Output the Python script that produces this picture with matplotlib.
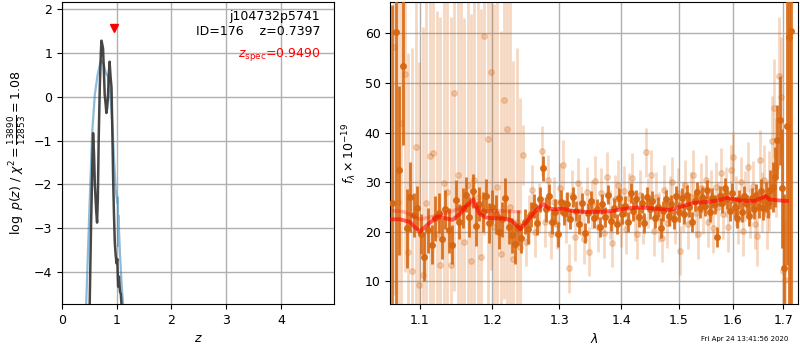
import numpy as np
import matplotlib
matplotlib.use('Agg')
import matplotlib.pyplot as plt
from matplotlib.ticker import NullLocator, FixedLocator, FixedFormatter

plt.rcParams['font.size'] = 9

# left panel: p(z) curves
z_smooth = [0.44, 0.50, 0.55, 0.60, 0.65, 0.70, 0.72, 0.76, 0.80, 0.84, 0.88, 0.92,
            0.95, 0.98, 1.01, 1.02, 1.025, 1.03, 1.06, 1.09, 1.12]
logp_smooth = [-4.8, -2.6, -0.85, 0.05, 0.5, 0.78, 0.82, 0.75, 0.55, 0.46, 0.1, -0.6,
               -1.4, -2.1, -2.42, -2.3, -3.4, -2.7, -3.6, -4.3, -4.8]

z_fit = [0.505, 0.53, 0.555, 0.568, 0.585, 0.60, 0.625, 0.641, 0.655, 0.67, 0.69, 0.71,
         0.72, 0.735, 0.75, 0.765, 0.78, 0.80, 0.81, 0.825, 0.84, 0.855, 0.87, 0.885,
         0.905, 0.92, 0.935, 0.95, 0.965, 0.98, 0.996, 1.01, 1.026, 1.04, 1.06, 1.075, 1.09]
logp_fit = [-4.8, -3.0, -1.5, -0.83, -1.3, -2.0, -2.6, -2.87, -2.3, -1.0, 0.2, 1.0,
            1.28, 1.2, 1.1, 0.6, 0.05, -0.2, -0.37, -0.25, 0.0, 0.5, 0.8, 0.5,
            0.2, -0.8, -1.9, -2.7, -3.33, -3.6, -3.8, -3.7, -4.33, -4.1, -4.45, -4.5, -4.8]

z_spec = 0.9490
z_best = 0.7397
chi2_num = 13890
chi2_den = 12853

# right panel: spectrum
dark_wave = np.linspace(1.064, 1.716, 140)
dark_flux = [25.8, 60.2, 32.4, 53.4, 20.7, 27.0, 23.4, 24.8, 19.6, 15.0,
             20.3, 17.4, 22.7, 23.8, 18.5, 24.5, 20.3, 17.4, 26.4, 22.0,
             24.8, 27.5, 23.0, 28.2, 21.2, 25.6, 24.0, 27.2, 21.8, 25.0,
             23.5, 20.0, 22.5, 26.8, 21.0, 19.3, 17.5, 20.8, 18.8, 22.0,
             20.5, 23.5, 25.2, 21.8, 26.5, 32.8, 24.5, 27.2, 22.0, 24.0,
             19.5, 26.0, 23.8, 25.5, 22.5, 27.0, 24.2, 21.5, 25.8, 19.8,
             23.8, 26.2, 22.8, 24.5, 21.0, 25.6, 23.0, 27.5, 22.2, 24.8,
             21.5, 26.8, 23.5, 25.2, 22.0, 27.8, 24.2, 26.5, 23.0, 25.8,
             21.8, 27.0, 24.5, 26.2, 22.8, 25.0, 20.8, 24.2, 26.5, 23.2,
             25.5, 22.5, 27.2, 24.0, 26.8, 23.5, 27.5, 25.0, 22.0, 26.2,
             28.0, 24.8, 27.0, 25.2, 28.5, 24.0, 26.8, 25.5, 19.0, 27.2,
             25.8, 28.8, 26.5, 24.2, 27.8, 25.0, 22.8, 26.5, 24.0, 27.2,
             25.5, 23.2, 26.8, 24.5, 27.5, 25.0, 28.2, 24.8, 27.0, 25.8,
             28.5, 29.0, 31.0, 38.5, 42.5, 28.8, 12.6, 41.3, 59.2, 60.5]
dark_err = [40, 60, 17, 16, 8, 7, 4.5, 4.5, 4, 5,
            4.5, 4, 4.5, 4, 4, 4, 4.5, 4, 4, 3.5,
            4, 3.5, 4, 3.5, 4, 3.5, 4, 3.5, 4, 3.5,
            4, 3.5, 3.5, 4, 3.5, 3.5, 4, 3.5, 3, 2.5,
            3, 2.5, 2.5, 2.5, 2.5, 2.5, 2.5, 2.5, 2.5, 2.5,
            2.5, 2.5, 2.5, 2.5, 2, 2, 2, 2, 2, 2,
            2, 2, 2, 2, 2, 2, 2, 2, 2, 2,
            2, 2, 2, 2, 2, 2, 2, 2, 2, 2,
            2, 2, 2, 2, 2, 2, 2, 2, 2, 2,
            2, 2, 2, 2, 2, 2, 2, 2, 2, 2,
            2, 2, 2, 2, 2, 2, 2, 2, 2, 2,
            2, 2, 2, 2, 2, 2, 2, 2, 2, 2,
            2, 2, 2, 2, 2.2, 2.2, 2.5, 2.5, 3, 3,
            4, 5, 6, 7, 9, 12, 15, 28, 55, 55]

light_wave = np.linspace(1.0665, 1.704, 137)
light_flux = [57.3, 26.0, 42.0, 51.8, 16.0, 12.0, 37.1, 9.3, 11.3, 25.8,
              35.3, 35.8, 19.5, 13.3, 29.9, 28.0, 13.3, 48.0, 31.4, 24.5,
              18.0, 29.5, 14.0, 30.5, 27.0, 14.9, 59.4, 38.7, 52.2, 21.0,
              29.0, 15.5, 46.5, 40.7, 25.0, 14.5, 22.0, 17.0, 35.5, 18.0,
              22.5, 28.5, 20.0, 24.8, 36.3, 22.0, 30.5, 19.5, 26.0, 21.5,
              28.8, 33.5, 22.8, 12.6, 27.5, 19.0, 29.8, 24.2, 18.5, 28.0,
              16.0, 25.5, 30.2, 21.0, 27.8, 19.8, 31.0, 23.5, 17.8, 26.5,
              29.5, 22.0, 28.2, 20.5, 26.8, 30.8, 23.2, 19.5, 27.5, 22.5,
              36.0, 25.8, 31.5, 20.2, 27.0, 23.0, 18.8, 28.5, 21.8, 26.2,
              30.0, 22.5, 27.8, 16.2, 25.0, 29.5, 21.5, 27.0, 31.5, 23.8,
              19.5, 28.8, 24.5, 30.5, 22.0, 27.5, 20.8, 29.0, 25.0, 31.8,
              23.5, 28.0, 21.0, 32.5, 35.1, 26.2, 22.5, 30.0, 20.2, 27.2,
              33.0, 23.8, 29.2, 21.5, 19.1, 34.5, 26.0, 30.5, 23.5, 28.2,
              38.3, 44.9, 33.0, 51.3, 47.2, 12.0, 10.3]
light_err = [50, 45, 40, 40, 40, 45, 40, 45, 50, 45,
             45, 40, 45, 50, 40, 45, 50, 40, 45, 45,
             45, 40, 50, 40, 45, 50, 40, 40, 40, 45,
             45, 45, 40, 40, 45, 40, 35, 30, 6, 5,
             5, 5, 5, 5, 5, 5, 5, 5, 5, 5,
             5, 5, 5, 5, 5, 5, 5, 5, 5, 5,
             5, 5, 5, 5, 5, 5, 5, 5, 5, 5,
             5, 5, 5, 5, 5, 5, 5, 5, 5, 5,
             5, 5, 5, 5, 5, 5, 5, 5, 5, 5,
             5, 5, 5, 5, 5, 5, 5, 5, 5, 5,
             5, 5, 5, 5, 5, 5, 5, 5, 5, 5,
             5, 5, 5, 5, 5, 5, 5, 5, 5, 5,
             5, 5, 5, 5, 6, 6, 6, 7, 7, 8,
             9, 10, 10, 12, 12, 15, 12]

model_wave = [1.062, 1.074, 1.0865, 1.100, 1.113, 1.124, 1.135, 1.144, 1.155, 1.164,
              1.173, 1.181, 1.190, 1.201, 1.214, 1.226, 1.233, 1.241, 1.250, 1.262,
              1.275, 1.284, 1.294, 1.305, 1.320, 1.341, 1.364, 1.386, 1.409, 1.431,
              1.454, 1.484, 1.502, 1.526, 1.550, 1.575, 1.588, 1.601, 1.614, 1.641,
              1.654, 1.664, 1.672, 1.692, 1.707]
model_flux = [22.5, 22.5, 22.0, 20.0, 21.8, 23.0, 22.7, 22.4, 23.7, 25.4,
              26.5, 23.7, 22.9, 22.7, 22.7, 22.4, 21.6, 20.5, 22.0, 24.0,
              25.6, 24.7, 24.5, 24.7, 24.2, 24.0, 24.0, 24.2, 24.7, 24.9,
              24.7, 24.4, 25.0, 25.8, 26.0, 26.4, 26.8, 26.6, 26.3, 26.2,
              26.7, 27.2, 26.5, 26.3, 26.2]

model2_wave = [1.062, 1.08, 1.10, 1.13, 1.17, 1.19, 1.21, 1.24]
model2_flux = [24.3, 24.0, 22.5, 23.5, 25.5, 24.2, 24.2, 24.0]

orange = '#d7660f'

fig = plt.figure(figsize=(8, 3.5), dpi=100)

# ---- p(z) panel
ax = fig.add_axes([0.0775, 0.131, 0.34, 0.863])
ax.plot(z_smooth, logp_smooth, color='tab:blue', alpha=0.5, lw=1.6)
ax.plot(z_fit, logp_fit, color='#333333', lw=1.8, alpha=0.9)
ax.plot([z_spec], [1.56], marker='v', color='red', ms=6, linestyle='none')
ax.set_xlim(0, 4.97)
ax.set_ylim(-4.73, 2.16)
ax.set_xticks([0, 1, 2, 3, 4])
ax.set_yticks([-4, -3, -2, -1, 0, 1, 2])
ax.grid(color='#b0b0b0', lw=1)
ax.set_axisbelow(True)
ax.set_xlabel('$z$')
ax.set_ylabel(r'$\log\ p(z)$ / $\chi^2=\frac{%d}{%d}=1.08$' % (chi2_num, chi2_den))
ax.text(0.95, 0.975, 'j104732p5741\nID=176    z=%.4f' % z_best, transform=ax.transAxes,
        ha='right', va='top', fontsize=9)
ax.text(0.95, 0.855, r'$z_\mathrm{spec}$=%.4f' % z_spec, transform=ax.transAxes,
        ha='right', va='top', color='red', fontsize=9)

# ---- spectrum panel
ax2 = fig.add_axes([0.488, 0.131, 0.509, 0.863])
ax2.errorbar(light_wave, light_flux, yerr=light_err, marker='o', ms=4, linestyle='none',
             color=orange, alpha=0.25, elinewidth=2, capsize=0, zorder=2)
ax2.errorbar(dark_wave, dark_flux, yerr=dark_err, marker='o', ms=4, linestyle='none',
             color=orange, alpha=0.9, elinewidth=2, capsize=0, zorder=3)
ax2.plot(model2_wave, model2_flux, color='red', alpha=0.25, lw=2.5, zorder=4)
ax2.plot(model_wave, model_flux, color='red', alpha=0.6, lw=2.8, zorder=5)
ax2.set_xscale('log')
ax2.set_xlim(1.062, 1.729)
ax2.set_ylim(5.4, 66.3)
lam_ticks = [1.1, 1.2, 1.3, 1.4, 1.5, 1.6, 1.7]
ax2.xaxis.set_major_locator(FixedLocator(lam_ticks))
ax2.xaxis.set_major_formatter(FixedFormatter(['%.1f' % t for t in lam_ticks]))
ax2.xaxis.set_minor_locator(NullLocator())
ax2.set_yticks([10, 20, 30, 40, 50, 60])
ax2.grid(color='#b0b0b0', lw=1)
ax2.set_axisbelow(True)
ax2.set_xlabel(r'$\lambda$')
ax2.set_ylabel(r'$f_\lambda\times10^{-19}$')

fig.text(0.985, 0.031, 'Fri Apr 24 13:41:56 2020', ha='right', va='center', fontsize=5)

fig.savefig('out.png', dpi=100)
